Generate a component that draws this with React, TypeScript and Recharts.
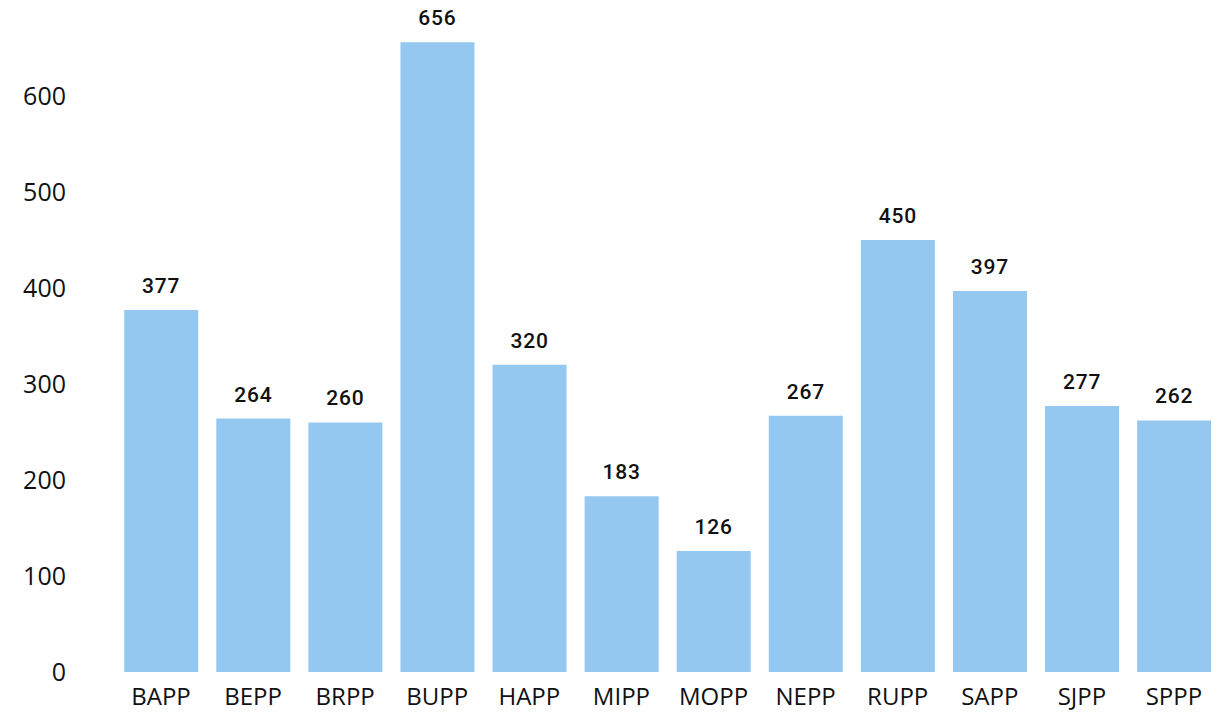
import { BarChart, Bar, XAxis, YAxis, LabelList } from "recharts";

const categories = ["BAPP", "BEPP", "BRPP", "BUPP", "HAPP", "MIPP", "MOPP", "NEPP", "RUPP", "SAPP", "SJPP", "SPPP"];
const counts = [377, 264, 260, 656, 320, 183, 126, 267, 450, 397, 277, 262];
const yTicks = [0, 100, 200, 300, 400, 500, 600];

const data = categories.map((name, i) => ({ name, value: counts[i] }));

const BAR_COLOR = "#95C8F0";

export default function App() {
  return (
    <div style={{ position: "absolute", left: 0, top: 0, background: "#fff" }}>
      <BarChart
        width={1227}
        height={713}
        data={data}
        margin={{ top: 0, right: 7, bottom: 0, left: 0 }}
        barCategoryGap="10%"
      >
        <XAxis
          dataKey="name"
          height={41}
          axisLine={false}
          tickLine={false}
          tickSize={0}
          tickMargin={16}
          interval={0}
          tick={{ fill: "#111", fontSize: 24, fontFamily: "Open Sans" }}
        />
        <YAxis
          width={115}
          domain={[0, 700]}
          ticks={yTicks}
          axisLine={false}
          tickLine={false}
          tickSize={0}
          tickMargin={49}
          tick={{ fill: "#111", fontSize: 25, fontFamily: "Open Sans" }}
        />
        <Bar dataKey="value" fill={BAR_COLOR} isAnimationActive={false}>
          <LabelList
            dataKey="value"
            position="top"
            offset={17}
            fill="#111"
            fontSize={21}
            fontWeight={500}
            fontFamily="Roboto"
            letterSpacing={0.8}
          />
        </Bar>
      </BarChart>
    </div>
  );
}
